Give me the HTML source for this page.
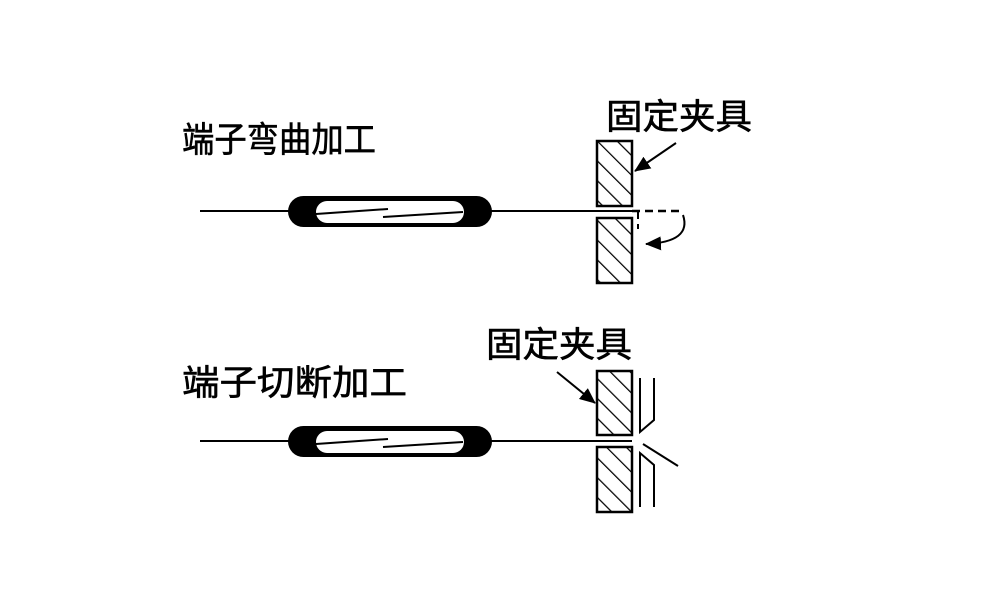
<!DOCTYPE html>
<html><head><meta charset="utf-8"><style>
html,body{margin:0;padding:0;background:#fff;}
svg{display:block;}
text{font-family:"Liberation Sans","Noto Sans CJK SC",sans-serif;font-size:35px;fill:#000;}
</style></head><body>
<svg width="1000" height="600" viewBox="0 0 1000 600" xmlns="http://www.w3.org/2000/svg">
<defs>
<pattern id="h" patternUnits="userSpaceOnUse" width="14" height="14" patternTransform="rotate(-45)">
<rect width="14" height="14" fill="#fff"/><line x1="0" y1="0" x2="0" y2="14" stroke="#000" stroke-width="2.5"/>
</pattern>
<marker id="a" markerWidth="16" markerHeight="14" refX="15" refY="7" orient="auto" markerUnits="userSpaceOnUse" viewBox="0 0 16 14"><path d="M0,0 L16,7 L0,14z" fill="#000"/></marker>
</defs>
<text x="182" y="152" textLength="194" lengthAdjust="spacingAndGlyphs" stroke="#000" stroke-width="0.6">端子弯曲加工</text>
<text x="606" y="129" textLength="146" lengthAdjust="spacingAndGlyphs" stroke="#000" stroke-width="0.6">固定夹具</text>
<text x="182" y="395" textLength="225" lengthAdjust="spacingAndGlyphs" stroke="#000" stroke-width="0.6">端子切断加工</text>
<text x="486" y="357" textLength="146" lengthAdjust="spacingAndGlyphs" stroke="#000" stroke-width="0.6">固定夹具</text>

<!-- top -->
<line x1="200" y1="211" x2="632" y2="211" stroke="#000" stroke-width="2"/>
<rect x="288" y="196" width="204" height="31" rx="15.5" fill="#000"/>
<rect x="316" y="201" width="148" height="22" rx="11" fill="#fff"/>
<line x1="316" y1="214" x2="388" y2="209" stroke="#000" stroke-width="2"/>
<line x1="383" y1="217" x2="463" y2="212" stroke="#000" stroke-width="2"/>
<rect x="597" y="141" width="35" height="65" fill="url(#h)" stroke="#000" stroke-width="2.5"/>
<rect x="597" y="218" width="35" height="65" fill="url(#h)" stroke="#000" stroke-width="2.5"/>
<line x1="632" y1="211" x2="684" y2="211" stroke="#000" stroke-width="2.5" stroke-dasharray="8,5"/>
<line x1="638" y1="211" x2="638" y2="229" stroke="#000" stroke-width="2" stroke-dasharray="8,5"/>
<path d="M683,215 Q692,242 646,244" fill="none" stroke="#000" stroke-width="2" marker-end="url(#a)"/>
<line x1="676" y1="143" x2="635" y2="171" stroke="#000" stroke-width="2" marker-end="url(#a)"/>

<!-- bottom -->
<line x1="200" y1="441" x2="632" y2="441" stroke="#000" stroke-width="2"/>
<rect x="288" y="426" width="204" height="31" rx="15.5" fill="#000"/>
<rect x="316" y="431" width="148" height="22" rx="11" fill="#fff"/>
<line x1="316" y1="444" x2="388" y2="439" stroke="#000" stroke-width="2"/>
<line x1="383" y1="447" x2="463" y2="442" stroke="#000" stroke-width="2"/>
<rect x="597" y="371" width="35" height="64" fill="url(#h)" stroke="#000" stroke-width="2.5"/>
<rect x="597" y="447" width="35" height="65" fill="url(#h)" stroke="#000" stroke-width="2.5"/>
<polyline points="640,378 640,432 654,420 654,378" fill="none" stroke="#000" stroke-width="2"/>
<polyline points="640,507 640,453 654,465 654,507" fill="none" stroke="#000" stroke-width="2"/>
<line x1="643" y1="444" x2="678" y2="466" stroke="#000" stroke-width="2"/>
<line x1="557" y1="372" x2="595" y2="403" stroke="#000" stroke-width="2" marker-end="url(#a)"/>
</svg>
</body></html>
